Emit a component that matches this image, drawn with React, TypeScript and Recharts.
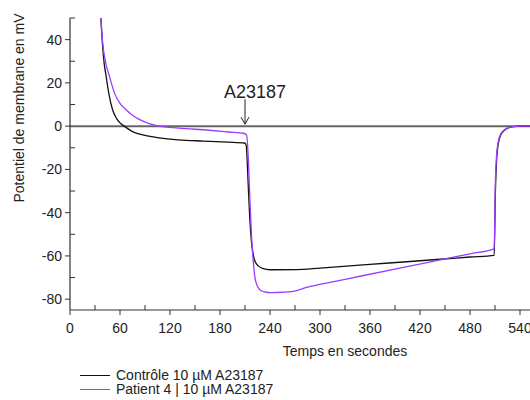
import React from 'react';
import { LineChart, Line, XAxis, YAxis, ReferenceLine, ReferenceDot } from 'recharts';

// time (s) / membrane potential (mV)
const controlT = [37, 38.8, 41, 43.3, 46.4, 51, 56, 60, 65, 75, 90, 107, 130, 160, 190, 209.5, 211.5, 213.5, 215.5, 217.5, 219.5, 222, 226, 231, 240, 272, 300, 336, 360, 400, 456, 480, 509, 510.5, 512, 514, 517, 521, 526, 532, 540, 552];
const controlV = [50, 38.7, 29, 23.2, 15.5, 7.7, 3.5, 1.5, 0, -2.5, -4.3, -5.4, -6.3, -6.9, -7.4, -7.8, -9, -24, -41, -52.5, -58.5, -62.5, -64.6, -65.8, -66.4, -66.3, -65.6, -64.6, -63.9, -62.8, -61.2, -60.5, -59.7, -30, -15, -8, -4, -2, -0.8, -0.2, 0, 0];

const patientT = [37, 39.2, 43, 47.2, 53.2, 60, 67, 75, 83, 95, 107, 130, 167, 190, 209.5, 212, 214, 216, 218, 220, 222, 225, 229, 235, 241.5, 255, 272, 284, 300, 348, 400, 456, 480, 509, 510.5, 512, 514, 517, 521, 526, 532, 540, 552];
const patientV = [50, 38.7, 29, 23.2, 15.5, 10.5, 7.7, 5, 3.1, 1.2, 0, -0.9, -1.9, -2.7, -3.4, -4.2, -15, -35, -52, -63, -70, -74, -76, -76.8, -77, -76.8, -76, -74.5, -73.2, -69.4, -65.3, -60.9, -59, -56.7, -25, -13, -7, -3.5, -1.8, -0.7, -0.2, 0, 0];

const xTicks = [0, 30, 60, 90, 120, 150, 180, 210, 240, 270, 300, 330, 360, 390, 420, 450, 480, 510, 540];
const yTicks = [-80, -70, -60, -50, -40, -30, -20, -10, 0, 10, 20, 30, 40, 50];

const SERIES = [
  { key: 'control', name: 'Contrôle 10 µM A23187', color: '#111111', t: controlT, v: controlV },
  { key: 'patient', name: 'Patient 4 | 10 µM A23187', color: '#9b3dff', t: patientT, v: patientV },
];

const FONT = '"Liberation Sans", Arial, sans-serif';
const AXIS = '#333333';
const TICK_SIZE = 5;
const TICK_MARGIN = 3;

const YTick = (props: any) => {
  const { x, y, payload } = props;
  const ax = x + TICK_SIZE + TICK_MARGIN;
  const major = payload.value % 20 === 0;
  return (
    <g>
      <line x1={ax} x2={major ? ax - 5 : ax + 5} y1={y} y2={y} stroke={AXIS} strokeWidth={1} />
      {major && (
        <text x={x} y={y} textAnchor="end" dominantBaseline="central" fontSize={14} fill="#222" fontFamily={FONT}>
          {payload.value}
        </text>
      )}
    </g>
  );
};

const XTick = (props: any) => {
  const { x, y, payload } = props;
  const ay = y - TICK_SIZE - TICK_MARGIN;
  const major = payload.value % 60 === 0;
  return (
    <g>
      <line x1={x} x2={x} y1={ay} y2={major ? ay + 5 : ay - 5} stroke={AXIS} strokeWidth={1} />
      {major && (
        <text x={x} y={y + 10} textAnchor="middle" dominantBaseline="central" fontSize={14} fill="#222" fontFamily={FONT}>
          {payload.value}
        </text>
      )}
    </g>
  );
};

const Annotation = (props: any) => {
  const { cx, cy } = props;
  return (
    <g>
      <line x1={cx} x2={cx} y1={cy - 27} y2={cy - 2} stroke="#222" strokeWidth={1} />
      <polyline points={`${cx - 4},${cy - 9} ${cx},${cy - 2} ${cx + 4},${cy - 9}`} fill="none" stroke="#222" strokeWidth={1} />
      <text x={cx - 21} y={cy - 28} fontSize={18} fill="#222" fontFamily={FONT}>A23187</text>
    </g>
  );
};

export default function App() {
  const seriesData = SERIES.map(s => ({ ...s, data: s.t.map((t, i) => ({ t, v: s.v[i] })) }));

  return (
    <div style={{ position: 'absolute', left: 0, top: 0, width: 530, height: 400, background: '#fff', fontFamily: FONT }}>
      <LineChart width={530} height={400} margin={{ top: 18, right: 0, left: 0, bottom: 60 }}>
        <XAxis
          type="number"
          dataKey="t"
          domain={[0, 552]}
          ticks={xTicks}
          allowDataOverflow
          tickLine={false}
          tickSize={TICK_SIZE}
          tickMargin={TICK_MARGIN}
          height={30}
          axisLine={{ stroke: AXIS, strokeWidth: 1.2 }}
          tick={<XTick />}
          interval={0}
        />
        <YAxis
          type="number"
          dataKey="v"
          domain={[-85, 50]}
          ticks={yTicks}
          allowDataOverflow
          tickLine={false}
          tickSize={TICK_SIZE}
          tickMargin={TICK_MARGIN}
          width={70}
          axisLine={{ stroke: AXIS, strokeWidth: 1.2 }}
          tick={<YTick />}
          interval={0}
        />
        <ReferenceLine y={0} stroke="#666" strokeWidth={2} />
        {seriesData.map(s => (
          <Line
            key={s.key}
            data={s.data}
            dataKey="v"
            name={s.name}
            type="monotone"
            stroke={s.color}
            strokeWidth={1.3}
            dot={false}
            isAnimationActive={false}
          />
        ))}
        <ReferenceDot x={210} y={0} r={0} shape={<Annotation />} />
      </LineChart>
      <div style={{ position: 'absolute', left: 0, top: 0, pointerEvents: 'none' }}>
        <div style={{ position: 'absolute', left: 19, top: 108, transform: 'translate(-50%, -50%) rotate(-90deg)', whiteSpace: 'nowrap', fontSize: 14, color: '#222' }}>
          Potentiel de membrane en mV
        </div>
        <div style={{ position: 'absolute', left: 345, top: 351, transform: 'translate(-50%, -50%)', whiteSpace: 'nowrap', fontSize: 14, color: '#222' }}>
          Temps en secondes
        </div>
      </div>
      <div style={{ position: 'absolute', left: 80, top: 368, fontSize: 14, lineHeight: '14px', color: '#222' }}>
        {SERIES.map(s => (
          <div key={s.key} style={{ display: 'flex', alignItems: 'center', height: 14 }}>
            <span style={{ display: 'inline-block', width: 30, height: 0, borderTop: `1.5px solid ${s.color}`, marginRight: 6 }} />
            <span>{s.name}</span>
          </div>
        ))}
      </div>
    </div>
  );
}
